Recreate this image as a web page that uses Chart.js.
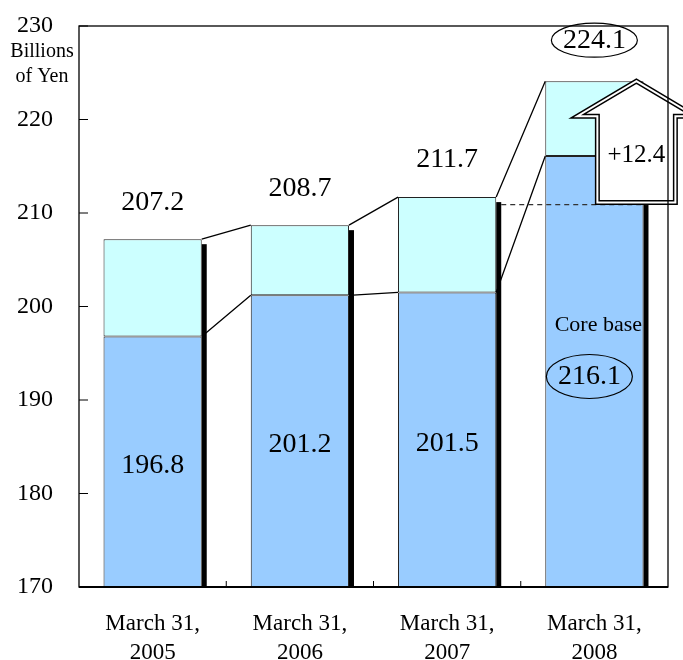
<!DOCTYPE html>
<html>
<head>
<meta charset="utf-8">
<script src="https://cdn.jsdelivr.net/npm/chart.js@4/dist/chart.umd.min.js"></script>
<style>
  html, body { margin: 0; padding: 0; background: #fff; }
</style>
</head>
<body>
<canvas id="chart" width="683" height="660"></canvas>
<script>
const categories = [['March 31,', '2005'], ['March 31,', '2006'], ['March 31,', '2007'], ['March 31,', '2008']];
const coreValues = [196.8, 201.2, 201.5, 216.1];
const totalValues = [207.2, 208.7, 211.7, 224.1];
const yTicks = [170, 180, 190, 200, 210, 220, 230];
const increaseLabel = '+12.4';
const arrowBase = 210.9;   // level of the dashed line under the arrow
const unitLines = ['Billions', 'of Yen'];
const coreLabel = 'Core base';

const upperValues = totalValues.map((t, i) => +(t - coreValues[i]).toFixed(1));
const FONT = 'Liberation Serif';

function text(ctx, str, x, y, size) {
    ctx.font = size + 'px "' + FONT + '"';
    ctx.fillStyle = '#000';
    ctx.textAlign = 'center';
    ctx.textBaseline = 'middle';
    ctx.fillText(str, x, y);
}

function ellipse(ctx, x, y, rx, ry) {
    ctx.beginPath();
    ctx.ellipse(x, y, rx, ry, 0, 0, Math.PI * 2);
    ctx.lineWidth = 1.2;
    ctx.strokeStyle = '#000';
    ctx.stroke();
}

const decorPlugin = {
    id: 'decor',
    afterDatasetsDraw(chart) {
        const ctx = chart.ctx;
        const area = chart.chartArea;
        const yScale = chart.scales.y;
        const core = chart.getDatasetMeta(0).data;
        const upper = chart.getDatasetMeta(1).data;
        ctx.save();

        // black shadow strips on the right of each bar
        upper.forEach(bar => {
            const right = bar.x + bar.width / 2;
            ctx.fillStyle = '#000';
            ctx.fillRect(right, bar.y + 5, 5, area.bottom - bar.y - 5);
        });

        // connector lines between bars
        ctx.strokeStyle = '#000';
        ctx.lineWidth = 1.3;
        for (let i = 0; i < upper.length - 1; i++) {
            const r = upper[i].x + upper[i].width / 2;
            const l = upper[i + 1].x - upper[i + 1].width / 2;
            ctx.beginPath();
            ctx.moveTo(r, upper[i].y);
            ctx.lineTo(l, upper[i + 1].y);
            ctx.moveTo(r, core[i].y);
            ctx.lineTo(l, core[i + 1].y);
            ctx.stroke();
        }

        // dashed level line from bar 3 to bar 4
        const last = upper.length - 1;
        const dashY = yScale.getPixelForValue(arrowBase);
        ctx.setLineDash([5, 4]);
        ctx.lineWidth = 1.3;
        ctx.strokeStyle = '#333';
        ctx.beginPath();
        ctx.moveTo(upper[last - 1].x + upper[last - 1].width / 2 + 5, dashY);
        ctx.lineTo(upper[last].x + upper[last].width / 2 + 4, dashY);
        ctx.stroke();
        ctx.setLineDash([]);

        // arrow showing the increase
        const b = upper[last];
        const tipX = b.x + 42, tipY = b.y;
        const shoulder = tipY + 35;
        const bottom = dashY - 2;
        const pts = [[tipX, tipY], [tipX + 59, shoulder], [tipX + 39, shoulder], [tipX + 39, bottom],
                     [tipX - 39, bottom], [tipX - 39, shoulder], [tipX - 59, shoulder]];
        ctx.beginPath();
        pts.forEach((p, k) => k ? ctx.lineTo(p[0], p[1]) : ctx.moveTo(p[0], p[1]));
        ctx.closePath();
        ctx.fillStyle = '#fff';
        ctx.fill();
        ctx.lineJoin = 'miter';
        ctx.lineWidth = 5;
        ctx.strokeStyle = '#000';
        ctx.stroke();
        ctx.lineWidth = 2;
        ctx.strokeStyle = '#fff';
        ctx.stroke();
        text(ctx, increaseLabel, tipX, tipY + 74, 25);

        // value labels
        upper.forEach((bar, i) => {
            const mid = (core[i].y + area.bottom) / 2;
            if (i < last) {
                text(ctx, totalValues[i].toFixed(1), bar.x, bar.y - 37, 28);
                text(ctx, coreValues[i].toFixed(1), bar.x, mid + 4, 28);
            } else {
                text(ctx, totalValues[i].toFixed(1), bar.x, bar.y - 41, 28);
                ellipse(ctx, bar.x, bar.y - 41, 43, 17);
                text(ctx, coreLabel, bar.x + 4, mid - 46, 22);
                text(ctx, coreValues[i].toFixed(1), bar.x - 5, mid + 5, 28);
                ellipse(ctx, bar.x - 5, mid + 5, 43, 22);
            }
        });

        // frame
        ctx.strokeStyle = '#000';
        ctx.lineWidth = 1.3;
        ctx.strokeRect(area.left, area.top, area.right - area.left, area.bottom - area.top);
        ctx.lineWidth = 2;
        ctx.beginPath();
        ctx.moveTo(area.left, area.bottom);
        ctx.lineTo(area.right, area.bottom);
        ctx.stroke();

        // inward tick marks
        ctx.lineWidth = 1;
        ctx.beginPath();
        yTicks.forEach(v => {
            const y = yScale.getPixelForValue(v);
            ctx.moveTo(area.left, y);
            ctx.lineTo(area.left + 9, y);
        });
        for (let i = 0; i < upper.length - 1; i++) {
            const x = (upper[i].x + upper[i + 1].x) / 2;
            ctx.moveTo(x, area.bottom);
            ctx.lineTo(x, area.bottom - 6);
        }
        ctx.stroke();

        // unit label
        text(ctx, unitLines[0], 42, 52, 20);
        text(ctx, unitLines[1], 42, 77, 20);
        ctx.restore();
    }
};

new Chart(document.getElementById('chart'), {
    type: 'bar',
    data: {
        labels: categories,
        datasets: [
            { data: coreValues, backgroundColor: '#99ccff', borderColor: '#222', borderWidth: 1, borderSkipped: false },
            { data: upperValues, backgroundColor: '#ccffff', borderColor: '#222', borderWidth: 1, borderSkipped: false }
        ]
    },
    options: {
        responsive: false,
        animation: false,
        layout: { padding: { top: 26, right: 15, left: 0, bottom: 0 } },
        datasets: { bar: { barPercentage: 0.667, categoryPercentage: 1 } },
        plugins: { legend: { display: false }, tooltip: { enabled: false } },
        scales: {
            x: {
                stacked: true,
                grid: { display: false, drawTicks: false },
                border: { display: false },
                ticks: { color: '#000', font: { family: FONT, size: 23, lineHeight: 1.27 }, padding: 22, maxRotation: 0, autoSkip: false },
                afterFit: s => { s.height = 73; }
            },
            y: {
                stacked: true,
                min: 170,
                max: 230,
                grid: { display: false, drawTicks: false },
                border: { display: false },
                afterBuildTicks: s => { s.ticks = yTicks.map(v => ({ value: v })); },
                ticks: { color: '#000', font: { family: FONT, size: 24 }, padding: 26 },
                afterFit: s => { s.width = 79; s.paddingTop = 0; s.paddingBottom = 0; }
            }
        }
    },
    plugins: [decorPlugin]
});
</script>
</body>
</html>
